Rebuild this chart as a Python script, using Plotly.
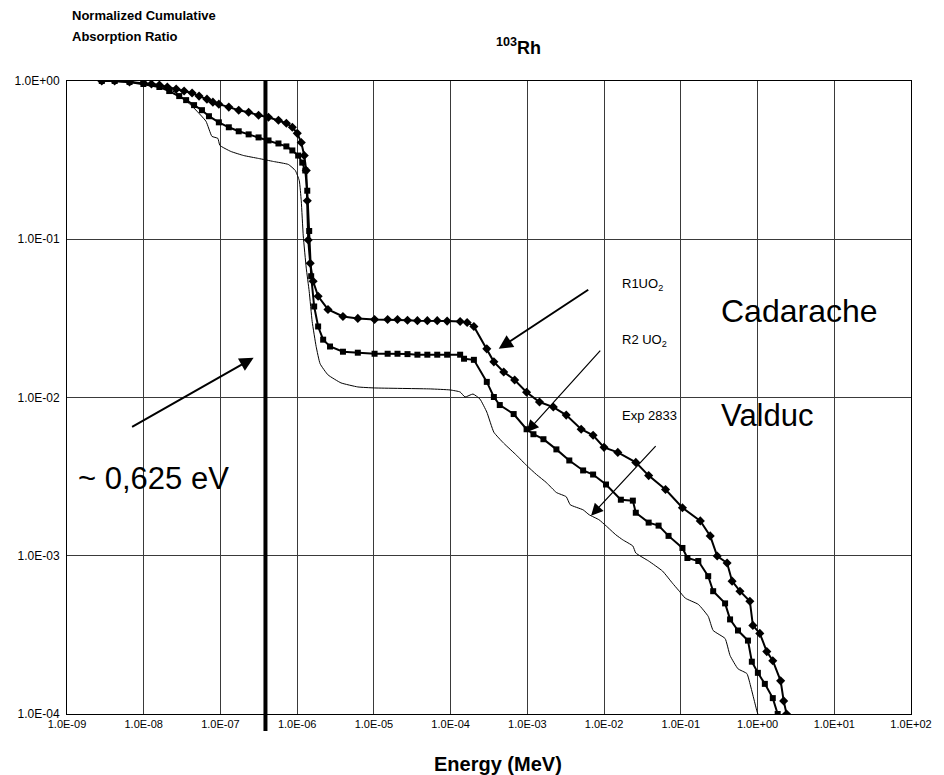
import plotly.graph_objects as go

# ---------------- data ----------------
r1_energy = [2.84e-9, 4.18e-9, 6.53e-9, 9.9e-9, 1.26e-8, 1.6e-8, 2.03e-8, 2.65e-8, 3.36e-8, 4.27e-8,
             5.26e-8, 6.67e-8, 7.97e-8, 9.53e-8, 1.285e-7, 1.73e-7, 2.33e-7, 3.14e-7, 4.23e-7, 5.7e-7,
             7.23e-7, 8.65e-7, 1.003e-6, 1.13e-6, 1.236e-6, 1.313e-6, 1.353e-6, 1.393e-6, 1.478e-6, 1.614e-6,
             1.875e-6, 2.52e-6, 3.95e-6, 6.17e-6, 1.02e-5, 1.51e-5, 2.03e-5, 2.74e-5, 3.69e-5, 4.97e-5,
             6.69e-5, 9.0e-5, 1.33e-4, 1.64e-4,
             2.01e-4, 2.96e-4, 3.66e-4, 4.92e-4, 6.83e-4, 9.77e-4, 1.44e-3, 2.18e-3, 3.21e-3, 5.03e-3,
             7.19e-3, 9.98e-3, 1.51e-2, 2.59e-2, 3.81e-2, 6.32e-2, 0.105, 0.1795, 0.2415, 0.298,
             0.401, 0.466, 0.59, 0.794, 0.869, 1.07, 1.32, 1.58, 2.0, 2.19, 2.39]
r1_ratio = [1.0, 1.0, 0.985, 0.971, 0.957, 0.943, 0.916, 0.889, 0.864, 0.839,
            0.803, 0.768, 0.735, 0.714, 0.684, 0.654, 0.635, 0.608, 0.59, 0.565,
            0.541, 0.51, 0.467, 0.409, 0.338, 0.272, 0.175, 0.0989, 0.0706, 0.0543,
            0.0436, 0.036, 0.0325, 0.0316, 0.0311, 0.0311, 0.0311, 0.0308, 0.0306, 0.0306,
            0.0306, 0.0304, 0.0302, 0.0298,
            0.0281, 0.0203, 0.0168, 0.0145, 0.0129, 0.0108, 0.00936, 0.0087, 0.00774, 0.0063,
            0.00577, 0.00484, 0.0045, 0.00389, 0.00321, 0.00262, 0.00201, 0.00166, 0.001335, 0.000996,
            0.0009, 0.000691, 0.000597, 0.000516, 0.000363, 0.000323, 0.000248, 0.000217, 0.000162, 0.000121, 0.0001]

r2_energy = [2.84e-9, 4.18e-9, 6.53e-9, 9.9e-9, 1.6e-8, 2.15e-8, 2.9e-8, 3.57e-8, 4.53e-8, 5.74e-8,
             7.08e-8, 9.53e-8, 1.285e-7, 1.73e-7, 2.33e-7, 3.14e-7, 4.23e-7, 5.7e-7, 7.23e-7, 8.65e-7,
             1.03e-6, 1.164e-6, 1.274e-6, 1.353e-6, 1.434e-6, 1.522e-6, 1.665e-6, 1.875e-6, 2.18e-6, 2.68e-6,
             3.95e-6, 6.17e-6, 1.02e-5, 1.51e-5, 2.03e-5, 2.74e-5, 3.69e-5, 4.97e-5, 6.69e-5, 9.0e-5,
             1.33e-4, 1.495e-4, 2.01e-4, 2.96e-4,
             3.66e-4, 4.37e-4, 6.63e-4, 9.77e-4, 1.2e-3, 1.62e-3, 2.39e-3, 3.52e-3, 5.33e-3, 7.19e-3,
             1.06e-2, 1.654e-2, 2.37e-2, 2.59e-2, 3.81e-2, 5.13e-2, 6.92e-2, 0.105, 0.1218, 0.169,
             0.2275, 0.264, 0.3776, 0.4385, 0.556, 0.75, 0.843, 1.01, 1.245, 1.58, 1.83]
r2_ratio = [1.0, 1.0, 0.985, 0.957, 0.916, 0.864, 0.803, 0.757, 0.704, 0.654,
            0.599, 0.548, 0.51, 0.481, 0.46, 0.44, 0.421, 0.403, 0.386, 0.364,
            0.338, 0.305, 0.272, 0.2026, 0.1128, 0.0584, 0.0376, 0.0281, 0.0232, 0.021,
            0.01947, 0.01919, 0.0189, 0.0189, 0.0189, 0.0188, 0.01864, 0.01864, 0.01864, 0.01864,
            0.01864, 0.01758, 0.0173, 0.01255,
            0.01007, 0.00896, 0.00786, 0.0063, 0.00586, 0.00545, 0.0047, 0.004, 0.00346, 0.00326,
            0.00282, 0.00226, 0.00223, 0.00187, 0.00162, 0.00155, 0.001335, 0.00112, 0.000968, 0.000926,
            0.000743, 0.000597, 0.0005, 0.000396, 0.000337, 0.000291, 0.000214, 0.000182, 0.000155, 0.000126, 0.0001]

exp_energy = [2.84e-9, 6.53e-9, 9.9e-9, 1.6e-8, 2.15e-8, 2.9e-8, 4.27e-8, 6.47e-8, 7.74e-8, 9.25e-8,
              9.82e-8, 1.363e-7, 2.01e-7, 3.14e-7, 4.91e-7, 7.67e-7, 9.45e-7, 1.065e-6, 1.13e-6, 1.2e-6,
              1.313e-6, 1.434e-6, 1.568e-6, 1.767e-6, 1.99e-6, 2.52e-6, 3.72e-6, 6.17e-6, 1.02e-5, 5.43e-5,
              9.86e-5, 1.33e-4, 1.54e-4, 1.955e-4, 2.41e-4, 2.96e-4, 3.66e-4, 4.92e-4, 7.24e-4, 9.77e-4,
              1.315e-3, 1.77e-3, 2.39e-3, 3.21e-3, 3.62e-3, 5.33e-3, 6.38e-3, 8.59e-3, 1.06e-2, 1.426e-2,
              1.754e-2, 2.37e-2, 2.59e-2, 3.81e-2, 5.78e-2, 7.78e-2, 9.31e-2, 0.1147, 0.169, 0.2275,
              0.264, 0.3776, 0.4385, 0.556, 0.727, 0.818, 0.895, 0.98, 1.01]
exp_ratio = [1.0, 0.985, 0.971, 0.929, 0.889, 0.815, 0.693, 0.557, 0.447, 0.434,
             0.392, 0.359, 0.338, 0.324, 0.31, 0.297, 0.272, 0.2347, 0.175, 0.105,
             0.0657, 0.0469, 0.0302, 0.021, 0.01633, 0.0139, 0.01237, 0.01166, 0.01149, 0.01133,
             0.01116, 0.01084, 0.01007, 0.01052, 0.00978, 0.00809, 0.00603, 0.00514, 0.00431, 0.00372,
             0.00326, 0.0029, 0.00251, 0.00236, 0.0021, 0.00195, 0.001816, 0.001688, 0.001546, 0.001355,
             0.00126, 0.001153, 0.001041, 0.000926, 0.0008, 0.000671, 0.000606, 0.000539, 0.000493, 0.000414,
             0.000337, 0.0003, 0.000234, 0.000193, 0.00018, 0.000148, 0.0001245, 0.0001045, 0.0001]

x_tick_vals = [1e-9, 1e-8, 1e-7, 1e-6, 1e-5, 1e-4, 1e-3, 1e-2, 1e-1, 1e0, 1e1, 1e2]
x_tick_text = ["1.0E-09", "1.0E-08", "1.0E-07", "1.0E-06", "1.0E-05", "1.0E-04",
               "1.0E-03", "1.0E-02", "1.0E-01", "1.0E+00", "1.0E+01", "1.0E+02"]
y_tick_vals = [1e-4, 1e-3, 1e-2, 1e-1, 1e0]
y_tick_text = ["1.0E-04", "1.0E-03", "1.0E-02", "1.0E-01", "1.0E+00"]

cutoff_energy = 3.86e-7  # thick vertical marker line (MeV)

FONT = "Liberation Sans, Arial, sans-serif"

fig = go.Figure()
fig.add_trace(go.Scatter(x=exp_energy, y=exp_ratio, mode="lines", name="Exp 2833",
                         line=dict(color="black", width=1, shape="spline", smoothing=0.4)))
fig.add_trace(go.Scatter(x=r2_energy, y=r2_ratio, mode="lines+markers", name="R2 UO2",
                         line=dict(color="black", width=2),
                         marker=dict(symbol="square", size=6, color="black")))
fig.add_trace(go.Scatter(x=r1_energy, y=r1_ratio, mode="lines+markers", name="R1UO2",
                         line=dict(color="black", width=2),
                         marker=dict(symbol="diamond", size=7, color="black")))

fig.add_shape(type="line", xref="x", yref="paper", x0=cutoff_energy, x1=cutoff_energy,
              y0=-0.027, y1=1.0, line=dict(color="black", width=4))

ann = []
# titles
ann.append(dict(text="Normalized Cumulative", xref="paper", yref="paper", x=0.004, y=1.103,
                xanchor="left", yanchor="middle", showarrow=False,
                font=dict(family=FONT, size=13, color="black", weight="bold")))
ann.append(dict(text="Absorption Ratio", xref="paper", yref="paper", x=0.004, y=1.071,
                xanchor="left", yanchor="middle", showarrow=False,
                font=dict(family=FONT, size=13, color="black", weight="bold")))
ann.append(dict(text="<sup>103</sup>Rh", xref="paper", yref="paper", x=0.535, y=1.054,
                xanchor="center", yanchor="middle", showarrow=False,
                font=dict(family=FONT, size=18, color="black", weight="bold")))
ann.append(dict(text="Energy (MeV)", xref="paper", yref="paper", x=0.511, y=-0.079,
                xanchor="center", yanchor="middle", showarrow=False,
                font=dict(family=FONT, size=20, color="black", weight="bold")))
# big labels
ann.append(dict(text="Cadarache", xref="paper", yref="paper", x=0.772, y=0.637,
                xanchor="left", yanchor="middle", showarrow=False,
                font=dict(family=FONT, size=32, color="black")))
ann.append(dict(text="Valduc", xref="paper", yref="paper", x=0.772, y=0.472,
                xanchor="left", yanchor="middle", showarrow=False,
                font=dict(family=FONT, size=31, color="black")))
ann.append(dict(text="~ 0,625 eV", xref="paper", yref="paper", x=0.011, y=0.372,
                xanchor="left", yanchor="middle", showarrow=False,
                font=dict(family=FONT, size=31, color="black")))
# small labels
for txt, yy in [("R1UO<sub>2</sub>", 0.678), ("R2 UO<sub>2</sub>", 0.59), ("Exp 2833", 0.472)]:
    ann.append(dict(text=txt, xref="paper", yref="paper", x=0.655, y=yy,
                    xanchor="left", yanchor="middle", showarrow=False,
                    font=dict(family=FONT, size=13, color="black")))
# arrows (head in axis log-units, tail offset in px)
arrows = [(-6.568, -1.749, -123, 70, 2.0),
          (-3.373, -1.692, 91, -60, 2.0),
          (-3.01, -2.219, 75, -83, 1.2),
          (-2.17, -2.747, 66, -71, 1.2)]
for hx, hy, dx, dy, w in arrows:
    ann.append(dict(text="", x=hx, y=hy, xref="x", yref="y", showarrow=True,
                    ax=dx, ay=dy, arrowhead=2, arrowsize=1.4 if w > 1.5 else 2.0,
                    arrowwidth=w, arrowcolor="black"))

fig.update_layout(
    width=944, height=775,
    margin=dict(l=67, r=22, t=81, b=61),
    paper_bgcolor="white", plot_bgcolor="white",
    showlegend=False,
    annotations=ann,
    xaxis=dict(type="log", range=[-9, 2], tickvals=x_tick_vals, ticktext=x_tick_text,
               showgrid=True, gridcolor="#3a3a3a", gridwidth=1, zeroline=False,
               showline=True, linecolor="black", linewidth=1, mirror=True, ticks="",
               ticklabeloverflow="allow",
               tickfont=dict(family=FONT, size=11, color="black"), tickangle=0),
    yaxis=dict(type="log", range=[-4, 0], tickvals=y_tick_vals, ticktext=y_tick_text,
               showgrid=True, gridcolor="#3a3a3a", gridwidth=1, zeroline=False,
               showline=True, linecolor="black", linewidth=1, mirror=True, ticks="",
               ticklabelstandoff=4,
               tickfont=dict(family=FONT, size=12, color="black")),
)

# remove the default page margin so the 944x775 figure fills the window exactly
page_fix = ("document.documentElement.style.margin='0';document.body.style.margin='0';"
            "document.documentElement.style.overflow='hidden';document.body.style.overflow='hidden';"
            "var g=document.getElementById('{plot_id}');g.parentElement.style.height='775px';"
            "g.parentElement.style.overflow='hidden';")

fig.write_html("out.html", post_script=page_fix, config={"displayModeBar": False})
